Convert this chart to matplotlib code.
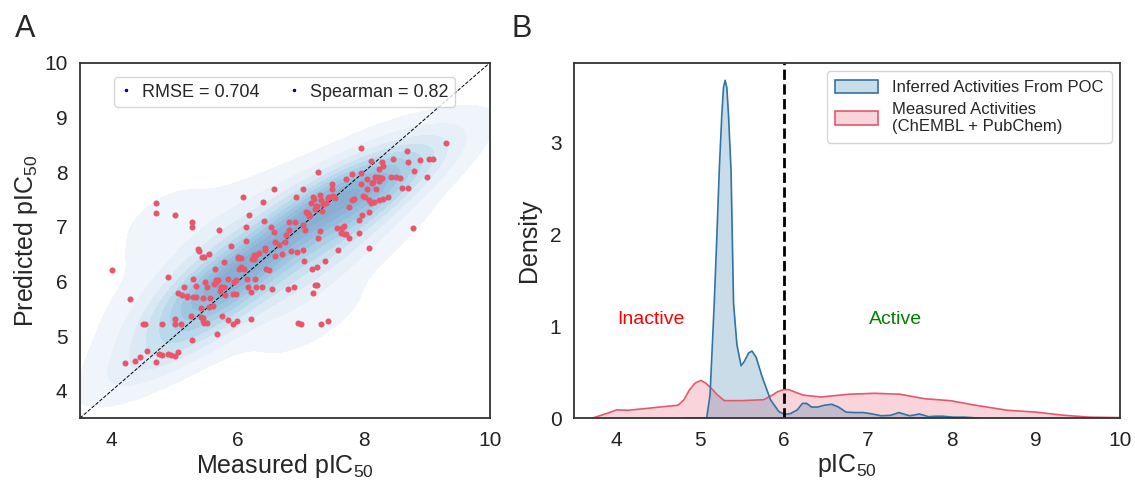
import numpy as np
import matplotlib.pyplot as plt
import seaborn as sns
from matplotlib.patches import Patch
from matplotlib.lines import Line2D
from matplotlib.colors import ListedColormap, to_rgb

# Panel A: measured vs predicted pIC50
measured = [4.00, 4.30, 4.22, 4.37, 4.45, 4.56, 4.70, 4.50, 4.53, 4.80, 4.70, 4.70, 4.90, 5.00,
            4.76, 4.80, 4.90, 4.95, 5.00, 5.05, 5.00, 5.00, 5.10, 5.06, 5.15, 5.19, 5.19, 5.27,
            5.27, 5.27, 5.30, 5.26, 5.30, 5.34, 5.37, 5.39, 5.44, 5.46, 5.55, 5.42, 5.45, 5.47,
            5.51, 5.45, 5.49, 5.51, 5.45, 5.42, 5.56, 5.61, 5.68, 5.70, 5.64, 5.65, 5.66, 5.62,
            5.74, 5.75, 5.79, 5.72, 5.80, 5.85, 5.85, 5.93, 5.99, 5.89, 5.95, 5.98, 5.98, 5.93,
            6.00, 6.01, 6.05, 6.06, 6.08, 6.13, 6.14, 6.18, 6.10, 6.15, 6.17, 6.22, 6.22, 6.23,
            6.26, 6.29, 6.27, 6.29, 6.39, 6.41, 6.42, 6.43, 6.43, 6.50, 6.53, 6.54, 6.58, 6.58,
            6.60, 6.59, 6.70, 6.77, 6.80, 6.81, 6.82, 6.85, 6.89, 6.91, 6.92, 6.95, 6.96, 7.01,
            7.03, 7.04, 7.06, 7.07, 7.04, 7.08, 7.12, 7.14, 7.18, 7.20, 7.23, 7.26, 7.26, 7.28,
            7.28, 7.30, 7.32, 7.16, 7.19, 7.21, 7.22, 7.26, 7.30, 7.33, 7.36, 7.34, 7.39, 7.40,
            7.43, 7.45, 7.49, 7.52, 7.54, 7.58, 7.60, 7.64, 7.69, 7.69, 7.72, 7.72, 7.77, 7.77,
            7.82, 7.85, 7.92, 7.93, 7.95, 7.96, 7.96, 7.99, 7.98, 8.02, 8.05, 8.05, 8.08, 8.09,
            8.09, 8.11, 8.12, 8.15, 8.16, 8.18, 8.20, 8.23, 8.24, 8.25, 8.27, 8.29, 8.29, 8.30,
            8.31, 8.39, 8.44, 8.47, 8.52, 8.57, 8.60, 8.69, 8.70, 8.70, 8.78, 8.80, 8.89, 9.00,
            9.04, 9.10, 9.30, 7.65, 5.12, 5.34, 5.69, 5.78, 5.54, 6.02, 6.26, 6.34, 6.45, 6.65,
            6.75, 7.14, 7.24, 7.43, 7.50, 7.82, 8.13, 8.24]
predicted = [6.21, 5.68, 4.51, 4.54, 4.61, 4.73, 4.53, 5.22, 5.22, 5.22, 7.26, 7.44, 6.08, 7.22,
             4.67, 4.66, 4.67, 4.65, 4.64, 4.71, 5.31, 5.22, 5.22, 5.78, 5.90, 5.74, 5.71, 4.92,
             7.08, 7.00, 6.04, 5.37, 5.72, 5.72, 6.59, 6.55, 6.45, 6.45, 6.51, 5.35, 5.33, 5.24,
             5.24, 5.28, 5.99, 5.89, 5.69, 5.52, 5.69, 5.55, 5.04, 6.95, 6.23, 6.02, 5.99, 5.96,
             5.89, 5.36, 6.35, 5.82, 5.76, 6.05, 5.29, 5.22, 5.28, 6.65, 5.99, 6.02, 5.77, 5.77,
             6.43, 6.45, 6.43, 6.27, 7.54, 6.74, 7.00, 7.21, 6.23, 6.04, 5.89, 5.80, 5.31, 6.41,
             6.48, 6.48, 6.04, 5.90, 5.90, 7.45, 7.11, 6.62, 6.57, 6.21, 7.00, 5.87, 7.69, 6.90,
             6.46, 6.73, 6.51, 6.85, 5.87, 6.94, 7.09, 6.55, 5.90, 7.09, 7.54, 6.54, 5.24, 5.22,
             6.57, 7.70, 6.37, 6.94, 7.03, 7.27, 7.25, 7.22, 6.23, 5.79, 5.93, 5.93, 6.27, 6.79,
             8.00, 6.92, 5.22, 7.44, 7.55, 7.50, 7.33, 7.39, 7.59, 7.49, 7.41, 7.29, 6.37, 7.44,
             5.28, 7.55, 7.79, 7.57, 7.52, 6.98, 6.57, 6.89, 7.02, 6.86, 7.88, 6.86, 6.79, 7.36,
             7.96, 7.50, 7.13, 6.88, 7.79, 8.45, 7.99, 7.57, 7.21, 7.55, 7.70, 7.88, 7.27, 7.49,
             6.61, 7.44, 8.20, 7.82, 7.45, 7.91, 7.70, 7.92, 7.49, 8.06, 7.90, 8.19, 7.90, 7.51,
             8.12, 7.54, 7.91, 8.24, 7.92, 7.90, 7.71, 8.39, 8.19, 7.71, 6.97, 8.02, 8.22, 7.92,
             8.24, 8.24, 8.54, 6.98, 5.76, 5.92, 6.03, 5.90, 5.53, 6.22, 6.42, 6.52, 6.23, 6.67,
             6.72, 7.19, 7.38, 7.52, 7.69, 7.49, 7.81, 7.83]
rmse_text = 'RMSE = 0.704'
spearman_text = 'Spearman = 0.82'

# Panel B: density curves
poc_x = [4.82, 5.08, 5.12, 5.17, 5.20, 5.23, 5.26, 5.28, 5.30, 5.32, 5.34, 5.37, 5.40, 5.44,
         5.49, 5.53, 5.58, 5.62, 5.67, 5.74, 5.84, 5.94, 6.01, 6.08, 6.16, 6.22, 6.27, 6.33,
         6.40, 6.48, 6.57, 6.65, 6.74, 6.85, 6.95, 7.05, 7.16, 7.27, 7.37, 7.44, 7.50, 7.56,
         7.61, 7.67, 7.72, 7.80, 7.89, 8.02, 8.15, 8.32]
poc_y = [0.00, 0.00, 0.25, 1.25, 1.95, 2.70, 3.30, 3.60, 3.68, 3.60, 3.30, 2.70, 1.25, 0.80,
         0.57, 0.62, 0.71, 0.73, 0.66, 0.45, 0.20, 0.07, 0.04, 0.05, 0.09, 0.16, 0.16, 0.12,
         0.12, 0.14, 0.15, 0.12, 0.065, 0.06, 0.06, 0.045, 0.025, 0.03, 0.06, 0.04, 0.025, 0.035,
         0.045, 0.03, 0.015, 0.02, 0.02, 0.01, 0.01, 0.00]
meas_x = [3.72, 3.89, 4.01, 4.14, 4.31, 4.52, 4.74, 4.81, 4.87, 4.94, 5.01, 5.07, 5.14, 5.21,
          5.29, 5.50, 5.76, 5.86, 5.93, 6.00, 6.06, 6.14, 6.23, 6.44, 6.78, 7.08, 7.38, 7.68,
          7.98, 8.28, 8.66, 9.00, 9.34, 9.64, 10.0]
meas_y = [0.00, 0.05, 0.09, 0.085, 0.10, 0.12, 0.14, 0.20, 0.30, 0.38, 0.41, 0.38, 0.32, 0.25,
          0.19, 0.19, 0.20, 0.25, 0.29, 0.31, 0.31, 0.28, 0.25, 0.23, 0.26, 0.27, 0.26, 0.21,
          0.19, 0.14, 0.085, 0.065, 0.03, 0.01, 0.005]
threshold = 6

sns.set_theme(style='white')
plt.rcParams['font.family'] = ['Liberation Sans', 'DejaVu Sans']
plt.rcParams['mathtext.fontset'] = 'custom'
plt.rcParams['mathtext.rm'] = 'Liberation Sans'
plt.rcParams['mathtext.it'] = 'Liberation Sans:italic'

red = '#e8566c'
blue = '#2f74a6'

# Blues blended half with white, so no alpha (avoids dark seams between levels)
base = plt.get_cmap('Blues')(np.linspace(0.08, 0.85, 256))[:, :3]
kde_cmap = ListedColormap(base * 0.5 + 0.5)

fig = plt.figure(figsize=(11.35, 4.8), dpi=100)
ax1 = fig.add_axes([0.0705, 0.129, 0.361, 0.740])
ax2 = fig.add_axes([0.5057, 0.129, 0.481, 0.740])

for ax in (ax1, ax2):
    for s in ax.spines.values():
        s.set_color('#333333')
        s.set_linewidth(1.3)
    ax.tick_params(labelsize=15, colors='#222222', length=0, pad=9)

# A
sns.kdeplot(x=measured, y=predicted, fill=True, cmap=kde_cmap, levels=11, thresh=0.04,
            bw_adjust=1.3, ax=ax1)
ax1.plot([3.5, 10], [3.5, 10], color='black', ls='--', lw=0.7)
ax1.scatter(measured, predicted, s=19, color=red, linewidths=0, zorder=3)
ax1.set_xlim(3.5, 10)
ax1.set_ylim(3.5, 10)
ax1.set_xticks([4, 6, 8, 10])
ax1.set_yticks([4, 5, 6, 7, 8, 9, 10])
ax1.set_xlabel('Measured pIC$_{50}$', fontsize=18, labelpad=2)
ax1.set_ylabel('Predicted pIC$_{50}$', fontsize=18, labelpad=3)
handles = [Line2D([], [], ls='none', marker='.', markersize=3, color='navy'),
           Line2D([], [], ls='none', marker='.', markersize=3, color='navy')]
ax1.legend(handles, [rmse_text, spearman_text], ncol=2, loc='upper center',
           bbox_to_anchor=(0.5, 0.985), fontsize=13, handlelength=0.6, handletextpad=0.6,
           columnspacing=1.6, frameon=True, borderpad=0.35)
fig.text(0.013, 0.923, 'A', fontsize=22)

# B
ax2.fill_between(meas_x, meas_y, color=red, alpha=0.25, lw=0)
ax2.plot(meas_x, meas_y, color=red, lw=1.2)
ax2.fill_between(poc_x, poc_y, color=blue, alpha=0.25, lw=0)
ax2.plot(poc_x, poc_y, color=blue, lw=1.2)
ax2.axvline(threshold, color='black', ls='--', lw=2)
ax2.text(4.42, 1.07, 'Inactive', color='red', fontsize=14, ha='center', va='center')
ax2.text(7.33, 1.07, 'Active', color='green', fontsize=14, ha='center', va='center')
ax2.set_xlim(3.5, 10)
ax2.set_ylim(0, 3.87)
ax2.set_xticks([4, 5, 6, 7, 8, 9, 10])
ax2.set_yticks([0, 1, 2, 3])
ax2.set_xlabel('pIC$_{50}$', fontsize=18, labelpad=2)
ax2.set_ylabel('Density', fontsize=18, labelpad=6)
leg_handles = [Patch(facecolor=(*to_rgb(blue), 0.25), edgecolor=blue, linewidth=1.2),
               Patch(facecolor=(*to_rgb(red), 0.25), edgecolor=red, linewidth=1.2)]
ax2.legend(leg_handles, ['Inferred Activities From POC',
                         'Measured Activities\n(ChEMBL + PubChem)'],
           loc='upper right', fontsize=12, handlelength=2.6, handleheight=0.9,
           borderpad=0.5, labelspacing=0.4)
fig.text(0.451, 0.923, 'B', fontsize=22)

fig.savefig('out.png', dpi=100)
